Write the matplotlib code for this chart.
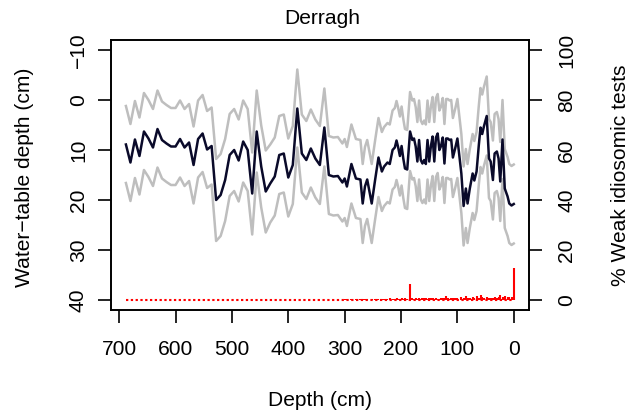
import numpy as np
import matplotlib
matplotlib.use("Agg")
import matplotlib.pyplot as plt

plt.rcParams['font.family'] = ['Liberation Sans', 'DejaVu Sans']
plt.rcParams['font.size'] = 15.1

# sample depths (cm), old -> young
depth = [688, 680, 672, 664, 656, 648, 640, 632, 624, 616,
         608, 600, 592, 584, 576, 568, 560, 552, 544, 536,
         528, 520, 512, 504, 496, 488, 480, 472, 464, 456,
         448, 440, 432, 424, 416, 408, 400, 392, 384, 376,
         368, 360, 352, 344, 336, 328, 320, 312, 304,
         300, 296, 288, 280, 272, 268, 264, 260, 252, 246,
         240, 234, 230, 224, 220, 215, 211, 208, 205, 202,
         199, 196, 193, 189, 184, 180, 177, 174, 171, 168,
         165, 162, 159, 156, 153, 150, 147, 144, 141, 138,
         135, 132, 129, 126, 123, 120, 117, 114, 111, 108,
         104, 100, 93, 89, 85, 82, 78, 73, 70, 66,
         62, 59, 56, 53, 48, 44, 41, 37, 34, 30,
         27, 24, 20, 16, 11, 8, 4, 0]

# reconstructed water-table depth (cm)
wtd = [8.9, 12.5, 7.9, 11.2, 6.3, 7.7, 9.5, 5.8, 8.0, 8.7,
       9.3, 9.3, 7.8, 9.5, 8.5, 13.0, 7.8, 6.7, 9.9, 9.2,
       20.0, 19.0, 16.0, 11.0, 10.0, 12.1, 8.3, 10.0, 18.7, 6.3,
       13.3, 18.3, 16.7, 15.3, 11.0, 10.7, 15.5, 13.0, 1.7, 10.7,
       12.0, 9.7, 11.7, 13.0, 5.5, 15.0, 15.3, 15.2, 16.5,
       15.7, 17.3, 12.8, 15.7, 15.9, 20.7, 17.3, 15.9, 20.7, 16.0,
       11.5, 14.3, 13.3, 12.5, 12.8, 10.0, 9.5, 8.1, 9.5, 11.2,
       9.2, 11.7, 13.7, 13.9, 6.3, 8.0, 7.7, 9.3, 12.3, 8.0,
       12.0, 12.7, 12.0, 12.8, 8.0, 12.3, 9.2, 7.3, 12.3, 7.5,
       6.7, 10.0, 9.2, 7.5, 12.7, 7.7, 7.7, 8.0, 7.9, 11.5,
       9.7, 7.7, 14.7, 21.2, 17.7, 20.7, 17.7, 14.7, 16.1, 14.3,
       9.0, 5.5, 6.8, 5.3, 3.2, 11.7, 12.3, 16.0, 10.7, 10.3,
       11.7, 16.3, 7.9, 17.7, 19.3, 20.7, 21.1, 20.8]

# sample-specific error (cm)
err = [7.7] * 20 + [8.2] * 12 + [7.8] * 17 + [7.9] * 78

# % weak idiosomic tests
pct = [0.0] * 49 + [
    0.3, 0.3, 0.4, 0.3, 0.4, 0.3, 0.4, 0.4, 0.3, 0.5,
    0.4, 0.5, 0.6, 0.5, 0.8, 0.6, 0.5, 0.9, 0.6, 0.5,
    0.7, 0.6, 0.8, 0.5, 6.4, 0.9, 0.6, 0.7, 0.5, 0.7,
    0.6, 0.8, 0.7, 1.0, 0.6, 0.8, 0.7, 1.0, 0.6, 0.7,
    0.5, 0.6, 0.8, 0.7, 0.9, 1.7, 0.7, 0.6, 0.8, 0.7,
    0.9, 0.8, 1.1, 0.7, 1.6, 0.9, 0.8, 1.2, 0.9, 1.5,
    1.0, 2.0, 1.1, 0.9, 1.3, 0.8, 1.0, 0.7, 1.1, 0.9,
    1.4, 2.0, 1.2, 1.5, 1.3, 1.1, 1.2, 13.0]

depth = np.array(depth)
wtd = np.array(wtd)
err = np.array(err)
pct = np.array(pct)

fig = plt.figure(figsize=(6.43, 4.18), dpi=100)
ax = fig.add_axes([110.7 / 643, 1 - 310 / 418, (529 - 110.7) / 643, 270 / 418])

ax.plot(depth, wtd - err, color="#bebebe", lw=1.8)
ax.plot(depth, wtd + err, color="#bebebe", lw=1.8)
ax.plot(depth, wtd, color="#0a0a2a", lw=1.8)

ax.set_xlim(715, -27)
ax.set_ylim(42, -12)
ax.set_xticks([700, 600, 500, 400, 300, 200, 100, 0])
ax.set_yticks([-10, 0, 10, 20, 30, 40])

ax2 = ax.twinx()
ax2.hlines(0, depth.max(), depth.min(), color="red", lw=1.5, linestyles=(0, (1.1, 1.2)))
ax2.vlines(depth, 0, pct, color="red", lw=1.5)
ax2.set_ylim(-4, 104)
ax2.set_yticks([0, 20, 40, 60, 80, 100])

for a in (ax, ax2):
    for s in a.spines.values():
        s.set_linewidth(1.2)
    a.tick_params(direction="out", length=9.4, width=1.2)

ax.tick_params(axis="x", pad=12)
ax.tick_params(axis="y", pad=7, labelrotation=90)
ax2.tick_params(axis="y", pad=11, labelrotation=90)
for lab in ax.get_yticklabels() + ax2.get_yticklabels():
    lab.set_va("center")

fig.text(322 / 643, 1 - 18 / 418, "Derragh", ha="center", va="center")
fig.text(320 / 643, 1 - 400 / 418, "Depth (cm)", ha="center", va="center")
fig.text(25 / 643, 1 - 177 / 418, "Water\u2212table depth (cm)", ha="center", va="center", rotation=90)
fig.text(620 / 643, 1 - 175 / 418, "% Weak idiosomic tests", ha="center", va="center", rotation=90)

fig.savefig("out.png", dpi=100)
